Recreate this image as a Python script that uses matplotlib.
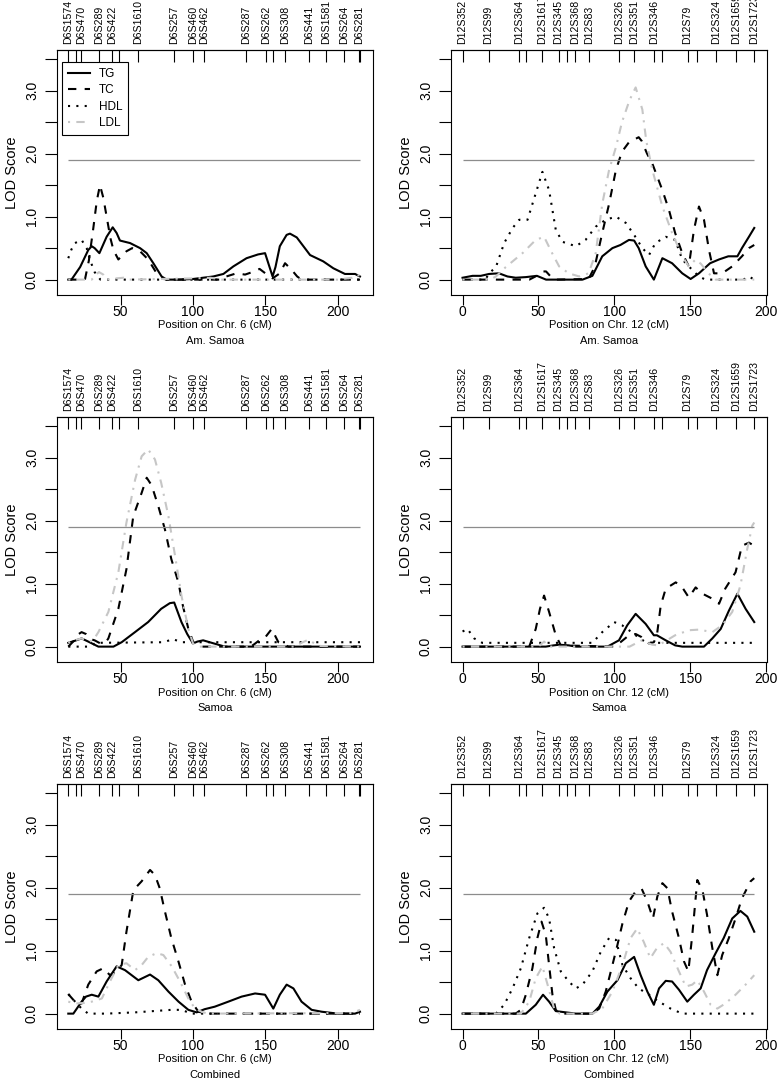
import matplotlib
matplotlib.use("Agg")
import matplotlib.pyplot as plt

plt.rcParams["font.family"] = ["Liberation Sans", "DejaVu Sans"]

# marker maps (cM); "" = marker whose label R skipped
chr6_pos = [13.8, 19.1, 22.4, 34.8, 43.8, 48.6, 62.0, 86.9, 100.0, 107.6,
            136.4, 150.5, 155.1, 163.8, 180.4, 191.9, 204.1, 214.7, 215.4]
chr6_names = ["D6S1574", "", "D6S470", "D6S289", "D6S422", "", "D6S1610",
              "D6S257", "D6S460", "D6S462", "D6S287", "D6S262", "", "D6S308",
              "D6S441", "D6S1581", "D6S264", "D6S281", ""]
chr12_pos = [0.0, 17.1, 37.1, 41.9, 52.2, 63.2, 69.1, 73.9, 83.1, 103.1,
             113.2, 126.3, 131.1, 148.2, 154.6, 166.9, 180.0, 192.1]
chr12_names = ["D12S352", "D12S99", "D12S364", "", "D12S1617", "D12S345", "",
               "D12S368", "D12S83", "D12S326", "D12S351", "D12S346", "",
               "D12S79", "", "D12S324", "D12S1659", "D12S1723"]

threshold = 1.9

# LOD curves, (position, LOD)
am6_tg = [(13.8, 0), (16, 0), (22, 0.2), (27.6, 0.47), (30, 0.53), (32, 0.5), (35.3, 0.42),
          (40.3, 0.68), (44.5, 0.83), (47.2, 0.74), (49.5, 0.62), (56.5, 0.58), (63.4, 0.5),
          (68, 0.42), (72.6, 0.26), (78.3, 0.05), (81.8, 0), (90, 0), (100, 0.01), (114, 0.05),
          (121, 0.09), (127.9, 0.21), (137, 0.34), (145, 0.4), (149.8, 0.42), (155, 0.05),
          (157, 0.2), (160, 0.53), (164.7, 0.71), (167, 0.73), (171.7, 0.67), (180.9, 0.39),
          (190, 0.29), (197, 0.18), (205, 0.09), (212, 0.09), (215.4, 0.05)]
am6_tc = [(13.8, 0), (25.3, 0), (28, 0.3), (31, 0.8), (33.5, 1.25), (35.7, 1.5), (38, 1.3),
          (40.3, 1.0), (43, 0.65), (45, 0.47), (48.4, 0.32), (51, 0.38), (54, 0.45), (58, 0.5),
          (63.4, 0.45), (69, 0.32), (74.9, 0.1), (79.5, 0.01), (85, 0), (120, 0), (123, 0.05),
          (130, 0.1), (136, 0.08), (141, 0.12), (146, 0.17), (150, 0.1), (155, 0.02), (160, 0.1),
          (163.6, 0.26), (168, 0.16), (172, 0.05), (175, 0), (215.4, 0)]
am6_hdl = [(13.8, 0.34), (16, 0.48), (18.4, 0.58), (23, 0.63), (26.5, 0.5), (29, 0.3),
           (32, 0.12), (36, 0), (215.4, 0)]
am6_ldl = [(13.8, 0), (30, 0), (33, 0.08), (35, 0.12), (38, 0.08), (40, 0), (47, 0.02),
           (52, 0.03), (56, 0), (100, 0.02), (112, 0.03), (120, 0), (200, 0), (210, 0.03),
           (213, 0.08), (215.4, 0.06)]

am12_tg = [(0, 0.03), (6.6, 0.06), (12, 0.06), (17.5, 0.09), (24, 0.1), (29.6, 0.05), (35, 0.03),
           (41.7, 0.04), (49, 0.06), (55, 0), (79, 0), (85.5, 0.06), (92, 0.37), (98.7, 0.5),
           (104, 0.55), (109.6, 0.63), (113, 0.62), (116, 0.5), (120.6, 0.21), (126, 0),
           (131.6, 0.34), (138, 0.26), (144.7, 0.1), (150.2, 0.01), (155.7, 0.1), (163, 0.26),
           (168.9, 0.32), (175, 0.37), (181, 0.37), (184, 0.5), (188.6, 0.68), (192.1, 0.82)]
am12_tc = [(0, 0), (44, 0), (48, 0.05), (52.6, 0.13), (55, 0.13), (58, 0.05), (61, 0), (83, 0.01),
           (87, 0.2), (92, 0.74), (96.5, 1.2), (101, 1.74), (105, 2.03), (109.6, 2.18), (116, 2.26),
           (118, 2.2), (121.5, 2.0), (125, 1.84), (131.6, 1.42), (136, 1.1), (140, 0.74),
           (144.7, 0.42), (149, 0.21), (152.4, 0.79), (155.7, 1.16), (159, 0.95), (162.3, 0.47),
           (165.6, 0.1), (171, 0.1), (177.6, 0.21), (184, 0.37), (188.6, 0.5), (192.1, 0.55)]
am12_hdl = [(0, 0), (15, 0), (17.5, 0.1), (22, 0.2), (27.4, 0.58), (33, 0.82), (37.3, 0.95),
            (42.8, 0.95), (48.2, 1.37), (52.6, 1.71), (57, 1.42), (61.4, 0.79), (65.8, 0.6),
            (74.6, 0.53), (81, 0.63), (87.7, 0.84), (94.3, 0.95), (101, 1.0), (107.5, 0.9),
            (113, 0.71), (118.4, 0.5), (122.8, 0.39), (127, 0.58), (133.8, 0.68), (140, 0.63),
            (144.7, 0.32), (149, 0.21), (155.7, 0.05), (160, 0), (185, 0), (188.6, 0.05),
            (192.1, 0)]
am12_ldl = [(0, 0), (18, 0), (22, 0.05), (28.5, 0.2), (39.5, 0.42), (48.2, 0.63), (53.7, 0.68),
            (59, 0.42), (63.6, 0.21), (70, 0.1), (76.8, 0.05), (83, 0.1), (87.7, 0.42), (92, 1.2),
            (96.5, 1.74), (101, 2.1), (105, 2.5), (110, 2.85), (114, 3.05), (118.4, 2.7),
            (121, 2.2), (125, 1.74), (131.6, 1.16), (138, 0.74), (144.7, 0.37), (149, 0.21),
            (153.5, 0.32), (157, 0.25), (162, 0.1), (166.7, 0), (192.1, 0)]

sm6_tg = [(13.8, 0.06), (18, 0.09), (23, 0.13), (27.6, 0.08), (34.6, 0), (45, 0), (50.7, 0.07),
          (59.9, 0.23), (69, 0.39), (78, 0.6), (84, 0.69), (87, 0.7), (92, 0.39), (96, 0.2),
          (100, 0.05), (103, 0.08), (107, 0.1), (113, 0.06), (122, 0), (215.4, 0)]
sm6_tc = [(13.8, 0), (18, 0.1), (21, 0.2), (23, 0.23), (26, 0.2), (29, 0.12), (32, 0.1),
          (36, 0.05), (40, 0.08), (41.5, 0.13), (48.4, 0.6), (54, 1.23), (58.7, 2.07),
          (64.5, 2.44), (68, 2.68), (71.4, 2.56), (76, 2.23), (80.6, 1.86), (85, 1.39),
          (89.9, 1.02), (93, 0.65), (96.8, 0.28), (100.2, 0.07), (106, 0), (140, 0), (143, 0.05),
          (147.5, 0.13), (150, 0.15), (154.4, 0.28), (159, 0.07), (166, 0), (215.4, 0)]
sm6_hdl = [(13.8, 0), (28, 0), (33, 0.06), (80, 0.07), (86, 0.12), (92, 0.07), (215.4, 0.07)]
sm6_ldl = [(13.8, 0.06), (18, 0.1), (23, 0.13), (28, 0.08), (31, 0.1), (34.6, 0.23),
           (41.5, 0.55), (48.4, 1.18), (54, 1.97), (60, 2.65), (64.5, 3.02), (69, 3.13),
           (73.7, 2.97), (78, 2.6), (83, 2.07), (87.6, 1.44), (92, 0.81), (96.8, 0.28), (100, 0.05),
           (104, 0), (170, 0), (175, 0.06), (179.7, 0.11), (184, 0.05), (188, 0.01), (215.4, 0)]

sm12_tg = [(0, 0), (54.8, 0), (60, 0.02), (63.6, 0.03), (70, 0.02), (74.6, 0), (95.4, 0),
           (103, 0.1), (108.5, 0.34), (114, 0.52), (120.6, 0.36), (126, 0.18), (128, 0.18),
           (133.8, 0.1), (140, 0.02), (144.7, 0), (159, 0), (164.5, 0.13), (170, 0.28),
           (175.4, 0.57), (181, 0.84), (186.4, 0.6), (192.1, 0.39)]
sm12_tc = [(0, 0), (43.9, 0), (48.2, 0.28), (51, 0.6), (53.7, 0.81), (57, 0.55), (61.4, 0.18),
           (64.7, 0.02), (100, 0), (103, 0.05), (109.6, 0.18), (114, 0.2), (118, 0.15),
           (122.8, 0.05), (126, 0.07), (128, 0.18), (130.5, 0.65), (133.8, 0.92), (140.4, 1.02),
           (144.7, 0.94), (149, 0.78), (153.5, 0.94), (158, 0.84), (164.5, 0.76), (168.9, 0.68),
           (173, 0.92), (179.8, 1.18), (184, 1.6), (188.6, 1.65), (192.1, 1.6)]
sm12_hdl = [(0, 0.24), (3.3, 0.28), (7.7, 0.13), (13, 0.06), (85.5, 0.06), (92, 0.23),
            (99.8, 0.39), (105, 0.34), (109.6, 0.26), (114, 0.18), (120.6, 0.07), (125, 0.06),
            (192.1, 0.06)]
sm12_ldl = [(0, 0), (50, 0), (53.7, 0.08), (57, 0), (110, 0), (118, 0.1), (125, 0.03),
            (129, 0.02), (140, 0.18), (149, 0.26), (155.7, 0.27), (164.5, 0.23), (171, 0.34),
            (177.6, 0.55), (183, 0.97), (187.5, 1.55), (190.8, 1.92), (192.1, 1.97)]

co6_tg = [(13.8, 0), (17.3, 0), (23, 0.19), (26, 0.27), (30, 0.3), (34.6, 0.27), (40.3, 0.51),
          (47.2, 0.75), (53, 0.69), (62.2, 0.53), (70.3, 0.62), (76, 0.53), (83, 0.35), (90, 0.19),
          (96.8, 0.06), (102.5, 0.02), (108, 0.07), (115, 0.11), (124.4, 0.19), (133.6, 0.27),
          (142.9, 0.32), (149.8, 0.3), (155.5, 0.08), (160, 0.3), (164.7, 0.46), (169.4, 0.4),
          (175, 0.19), (182, 0.06), (189, 0.03), (200, 0), (212, 0), (215.4, 0.03)]
co6_tc = [(13.8, 0.31), (18.4, 0.19), (23, 0.16), (27.6, 0.46), (33.4, 0.67), (38, 0.72),
          (42.6, 0.61), (47, 0.67), (50.7, 0.77), (54, 1.3), (58.8, 1.96), (64.5, 2.1),
          (70.3, 2.28), (73.7, 2.2), (77, 1.99), (80.6, 1.62), (85, 1.2), (89.9, 0.83),
          (94.5, 0.46), (99, 0.19), (103.7, 0.03), (110, 0), (215.4, 0)]
co6_hdl = [(13.8, 0.31), (17.3, 0.22), (23, 0.08), (27.6, 0), (40, 0), (60, 0.02), (85, 0.06),
           (92, 0.06), (99, 0), (215.4, 0)]
co6_ldl = [(13.8, 0.19), (18.4, 0.16), (25, 0.17), (30, 0.19), (37, 0.24), (42.6, 0.51),
           (48.4, 0.77), (54, 0.8), (59.9, 0.69), (64.5, 0.77), (69, 0.9), (74.9, 0.96),
           (79.5, 0.93), (85.3, 0.75), (91, 0.51), (96.8, 0.24), (101.4, 0.08), (106, 0.03),
           (110, 0), (210, 0.01), (215.4, 0.06)]

co12_tg = [(0, 0), (41.7, 0), (48.2, 0.14), (53, 0.3), (57, 0.19), (61.4, 0.04), (68, 0.02),
           (74.6, 0), (85.5, 0), (90, 0.11), (95.4, 0.35), (102, 0.53), (107.5, 0.8), (113, 0.9),
           (117.3, 0.61), (121.7, 0.35), (126, 0.14), (129.4, 0.4), (133.8, 0.52), (138, 0.51),
           (142.5, 0.38), (148, 0.19), (152.4, 0.3), (156.8, 0.4), (161, 0.69), (166.7, 0.96),
           (172, 1.2), (177.6, 1.51), (183, 1.63), (187.5, 1.54), (192.1, 1.3)]
co12_tc = [(0, 0), (35, 0), (38.4, 0.06), (41.7, 0.3), (46, 0.72), (49.3, 1.2), (52, 1.46),
           (54.8, 1.25), (57, 0.77), (59.2, 0.3), (61.4, 0.06), (64, 0), (85.5, 0), (90, 0.08),
           (94.3, 0.35), (98.7, 0.77), (102, 1.09), (105.3, 1.43), (109.6, 1.78), (114, 1.94),
           (118, 1.98), (121.7, 1.78), (125.4, 1.51), (128.3, 1.86), (131.6, 2.07), (134.9, 1.99),
           (138, 1.62), (142.5, 1.2), (145.8, 0.83), (148.7, 0.67), (151.3, 1.25), (154.6, 2.12),
           (158, 1.96), (161, 1.57), (164.5, 1.04), (167.8, 0.61), (171, 0.93), (175.4, 1.2),
           (179.8, 1.51), (184, 1.83), (189.7, 2.1), (192.1, 2.15)]
co12_hdl = [(0, 0), (22, 0), (27.4, 0.14), (32.9, 0.4), (38.4, 0.72), (43.9, 1.2), (49.3, 1.59),
            (53.7, 1.68), (57, 1.51), (60.3, 1.04), (64.7, 0.67), (70, 0.51), (74.6, 0.4),
            (79, 0.46), (85.5, 0.67), (91, 0.98), (96.5, 1.2), (101, 1.17), (105.3, 0.77),
            (110.7, 0.56), (116, 0.4), (122.8, 0.3), (129.4, 0.19), (137, 0.08), (144.7, 0),
            (192.1, 0)]
co12_ldl = [(0, 0), (38.4, 0), (43.9, 0.19), (48.2, 0.56), (52.6, 0.75), (56, 0.46),
            (60.3, 0.08), (64, 0), (85.5, 0), (92, 0.08), (98.7, 0.35), (105.3, 0.77),
            (110.7, 1.2), (115, 1.35), (119.3, 1.14), (123.7, 0.88), (128, 1.04), (132.7, 1.12),
            (137, 0.98), (142.5, 0.67), (147, 0.43), (151.3, 0.46), (154.6, 0.53), (159, 0.35),
            (163.4, 0.14), (167.8, 0.08), (173, 0.16), (179.8, 0.3), (186.4, 0.46), (192.1, 0.61)]

traits = ["TG", "TC", "HDL", "LDL"]
populations = ["Am. Samoa", "Samoa", "Combined"]
panels = [
    ([am6_tg, am6_tc, am6_hdl, am6_ldl], [am12_tg, am12_tc, am12_hdl, am12_ldl]),
    ([sm6_tg, sm6_tc, sm6_hdl, sm6_ldl], [sm12_tg, sm12_tc, sm12_hdl, sm12_ldl]),
    ([co6_tg, co6_tc, co6_hdl, co6_ldl], [co12_tg, co12_tc, co12_hdl, co12_ldl]),
]

styles = [
    dict(color="black", linestyle="-"),
    dict(color="black", dashes=(4, 4)),
    dict(color="black", dashes=(1, 3)),
    dict(color="#c6c6c6", dashes=(1, 3, 4, 3)),
]

W, H = 778, 1086
fig = plt.figure(figsize=(W / 100, H / 100), dpi=100)


def rect(x0, top, w, h):
    return [x0 / W, 1 - (top + h) / H, w / W, h / H]


col_x = [57, 451]
row_top = [50, 417, 784]
pw, ph = 316, 245
chroms = [(6, chr6_pos, chr6_names, (6.0, 224.4), [50, 100, 150, 200]),
          (12, chr12_pos, chr12_names, (-7.6, 200.5), [0, 50, 100, 150, 200])]

for r, (left_curves, right_curves) in enumerate(panels):
    for c, curves in enumerate([left_curves, right_curves]):
        chrom, pos, names, xlim, xt = chroms[c]
        ax = fig.add_axes(rect(col_x[c], row_top[r], pw, ph))
        for name, pts, st in zip(traits, curves, styles):
            xs = [p[0] for p in pts]
            ys = [p[1] for p in pts]
            ax.plot(xs, ys, lw=1.5, label=name, **st)
        ax.hlines(threshold, pos[0], pos[-1], color="#8c8c8c", lw=0.9)
        ax.set_xlim(*xlim)
        ax.set_ylim(-0.244, 3.644)
        ax.set_xticks(xt)
        ax.set_yticks([0, 1, 2, 3])
        ax.set_yticklabels(["0.0", "1.0", "2.0", "3.0"], rotation=90, va="center")
        ax.set_yticks([0.5, 1.5, 2.5, 3.5], minor=True)
        ax.tick_params(axis="y", which="both", direction="out", length=9, width=0.8,
                       labelsize=10, pad=4)
        ax.tick_params(axis="x", which="major", direction="out", length=7, width=0.8,
                       labelsize=10, pad=0.5)
        ax.tick_params(axis="x", which="minor", bottom=False)
        for s in ax.spines.values():
            s.set_linewidth(0.8)
        top = ax.secondary_xaxis("top")
        top.set_xticks(pos, names)
        top.tick_params(direction="in", length=8.5, width=0.8, labelsize=7.6,
                        rotation=90, pad=4.5)
        top.spines["top"].set_linewidth(0.8)

        cx = col_x[c] + pw / 2
        fig.text(cx / W, 1 - (row_top[r] + ph + 30.5) / H,
                 "Position on Chr. %d (cM)" % chrom, ha="center", va="center", fontsize=8)
        fig.text(cx / W, 1 - (row_top[r] + ph + 46) / H, populations[r],
                 ha="center", va="center", fontsize=8)
        fig.text((col_x[c] - 45) / W, 1 - (row_top[r] + ph / 2) / H, "LOD Score",
                 rotation=90, ha="center", va="center", fontsize=10.5)

        if r == 0 and c == 0:
            leg = ax.legend(loc="upper left", bbox_to_anchor=(0.016, 0.951),
                            borderaxespad=0, fontsize=8.5, handlelength=1.9,
                            handletextpad=0.7, labelspacing=0.38, borderpad=0.5,
                            fancybox=False, framealpha=1, edgecolor="black")
            leg.get_frame().set_linewidth(0.8)

fig.savefig("out.png", dpi=100)
